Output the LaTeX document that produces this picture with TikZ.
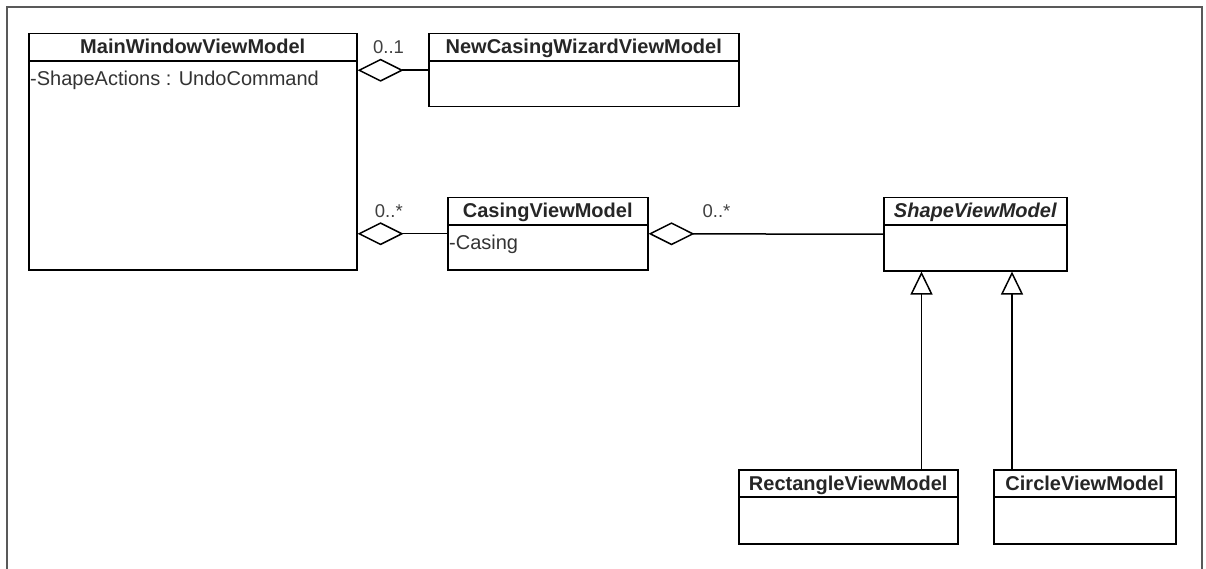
\documentclass[tikz,border=0pt]{standalone}
\usepackage{fontspec}
\setmainfont{Liberation Sans}
\usetikzlibrary{arrows.meta, positioning}

\tikzset{
  frame/.style      = {draw=black!65, line width=2pt},
  classbox/.style   = {draw, line width=1.5pt, inner sep=0pt},
  classline/.style  = {line width=1.5pt},
  classtitle/.style = {font=\bfseries\fontsize{20}{23}\selectfont,
                       text=black!85, inner sep=0pt},
  classattr/.style  = {font=\fontsize{20}{23}\selectfont, text=black!80,
                       inner xsep=2pt, inner ysep=10pt, align=left},
  mult/.style       = {font=\fontsize{18.5}{21}\selectfont, text=black!75,
                       inner sep=0pt},
  aggr/.style       = {line width=1.5pt,
                       -{Diamond[open, length=46pt, width=23pt, line width=1.5pt]}},
  gen/.style        = {line width=1.5pt,
                       -{Triangle[open, length=23pt, width=22pt, line width=1.5pt]}},
}

% class box: name, x, y (top left), width, height, title, attributes
\newcommand{\umlclass}[7]{%
  \node[classbox, minimum width=#4pt, minimum height=#5pt, anchor=north west]
    (#1) at (#2,#3) {};
  \draw[classline] ([yshift=-28pt]#1.north west) -- ([yshift=-28pt]#1.north east);
  \node[classtitle, anchor=base] (#1-title) at ([yshift=-21pt]#1.north) {#6};
  \node[classattr, anchor=north west] (#1-attr) at ([yshift=-28pt]#1.north west) {#7};
}

\begin{document}
\begin{tikzpicture}[x=1pt, y=-1pt]
\useasboundingbox (0,0) rectangle (1206,569);
\draw[frame] (7,580) -- (7,7) -- (1202,7) -- (1202,580);

\umlclass{mainvm}{28}{33}{328}{236}{MainWindowViewModel}{-ShapeActions : UndoCommand}
\umlclass{wizardvm}{428}{33}{310}{73}{NewCasingWizardViewModel}{}
\umlclass{casingvm}{447}{197}{200}{72}{CasingViewModel}{-Casing}
\umlclass{shapevm}{883}{197}{183}{73}{\itshape ShapeViewModel}{}
\umlclass{rectvm}{738}{469}{219}{74}{RectangleViewModel}{}
\umlclass{circlevm}{993}{469}{182}{74}{CircleViewModel}{}

% aggregations
\draw[aggr] (wizardvm.west) -- node[mult, pos=0.56, above=16pt] {0..1}
  (wizardvm.west -| mainvm.east);
\draw[aggr] (casingvm.west) -- node[mult, pos=0.65, above=15pt] {0..*}
  (casingvm.west -| mainvm.east);
\draw[aggr] (shapevm.west) -- node[mult, pos=0.71, above=15pt] {0..*}
  (casingvm.east);

% generalizations
\coordinate (rectup) at ([xshift=-37pt]rectvm.north east);
\coordinate (circleup) at ([xshift=19pt]circlevm.north west);
\draw[gen] (rectup) -- (rectup |- shapevm.south);
\draw[gen] (circleup) -- (circleup |- shapevm.south);
\end{tikzpicture}
\end{document}
